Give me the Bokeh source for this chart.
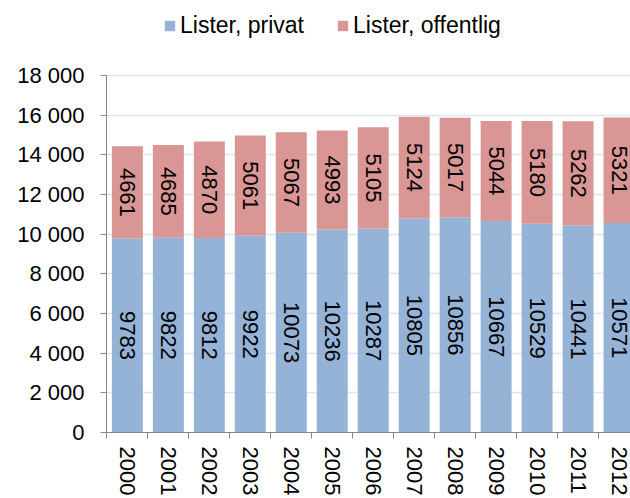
import math
from bokeh.plotting import figure
from bokeh.models import ColumnDataSource, FixedTicker, Legend, LegendItem, Range1d
from bokeh.core.properties import value
from bokeh.embed import file_html
from bokeh.resources import INLINE

years = ["2000", "2001", "2002", "2003", "2004", "2005", "2006",
         "2007", "2008", "2009", "2010", "2011", "2012"]
privat = [9783, 9822, 9812, 9922, 10073, 10236, 10287, 10805, 10856, 10667, 10529, 10441, 10571]
offentlig = [4661, 4685, 4870, 5061, 5067, 4993, 5105, 5124, 5017, 5044, 5180, 5262, 5321]
series_names = ["Lister, privat", "Lister, offentlig"]
colors = ["#95b3d7", "#d99694"]
y_ticks = [0, 2000, 4000, 6000, 8000, 10000, 12000, 14000, 16000, 18000]
y_tick_labels = ["0", "2 000", "4 000", "6 000", "8 000", "10 000", "12 000",
                 "14 000", "16 000", "18 000"]

FONT = "Liberation Sans"
FS = "22px"

xs = list(range(len(years)))
total = [a + b for a, b in zip(privat, offentlig)]
src = ColumnDataSource(dict(
    x=xs,
    privat=privat,
    offentlig=offentlig,
    total=total,
    zero=[0] * len(xs),
    mid_p=[v / 2 for v in privat],
    mid_o=[a + b / 2 for a, b in zip(privat, offentlig)],
    lab_p=[str(v) for v in privat],
    lab_o=[str(v) for v in offentlig],
))

# frame spans from the top of the page to the x axis; the axis line is bounded at 18 000
y_top = 18000 * 431 / 356
p = figure(width=630, height=498, output_backend="svg", toolbar_location=None,
           x_range=Range1d(-0.51, 12.28), y_range=Range1d(0, y_top),
           min_border_left=106, min_border_right=0, min_border_top=0, min_border_bottom=0)
p.outline_line_color = None
p.background_fill_color = "white"
p.border_fill_color = "white"

bw = 0.756
r1 = p.vbar(x="x", bottom="zero", top="privat", width=bw, source=src,
            fill_color=colors[0], line_color=None)
r2 = p.vbar(x="x", bottom="privat", top="total", width=bw, source=src,
            fill_color=colors[1], line_color=None)

for col, lab in (("mid_p", "lab_p"), ("mid_o", "lab_o")):
    p.text(x="x", y=col, text=lab, source=src, angle=-math.pi / 2,
           text_align="center", text_baseline="middle",
           text_font=value(FONT), text_font_size=FS, text_color="black")

# y axis
p.yaxis.ticker = FixedTicker(ticks=y_ticks)
p.yaxis.bounds = (y_ticks[0], y_ticks[-1])
p.yaxis.major_label_overrides = {t: l for t, l in zip(y_ticks, y_tick_labels)}
p.yaxis.major_label_text_font = FONT
p.yaxis.major_label_text_font_size = FS
p.yaxis.major_label_text_color = "black"
p.yaxis.axis_line_color = "#868686"
p.yaxis.major_tick_line_color = "#868686"
p.yaxis.major_tick_out = 6
p.yaxis.major_tick_in = 0
p.yaxis.minor_tick_line_color = None
p.yaxis.major_label_standoff = 16

# x axis
p.xaxis.ticker = FixedTicker(ticks=xs, minor_ticks=[i - 0.5 for i in range(len(years) + 1)])
p.xaxis.major_label_overrides = {i: y for i, y in enumerate(years)}
p.xaxis.major_label_orientation = -math.pi / 2
p.xaxis.major_label_text_font = FONT
p.xaxis.major_label_text_font_size = FS
p.xaxis.major_label_text_color = "black"
p.xaxis.axis_line_color = "#868686"
p.xaxis.major_tick_line_color = None
p.xaxis.minor_tick_line_color = "#868686"
p.xaxis.minor_tick_out = 6
p.xaxis.minor_tick_in = 0
p.xaxis.major_label_standoff = 8

p.xgrid.grid_line_color = None
p.ygrid.grid_line_color = "#dce6f2"
p.ygrid.grid_line_width = 1.5

legend = Legend(items=[LegendItem(label=series_names[0], renderers=[r1]),
                       LegendItem(label=series_names[1], renderers=[r2])],
                orientation="horizontal", location=(57, 393),
                label_text_font=FONT, label_text_font_size="23px", label_text_color="black",
                glyph_width=13, glyph_height=13, label_standoff=4, spacing=32,
                padding=0, margin=0, border_line_color=None,
                background_fill_alpha=0)
p.add_layout(legend, "center")

open("out.html", "w").write(file_html(p, INLINE))
